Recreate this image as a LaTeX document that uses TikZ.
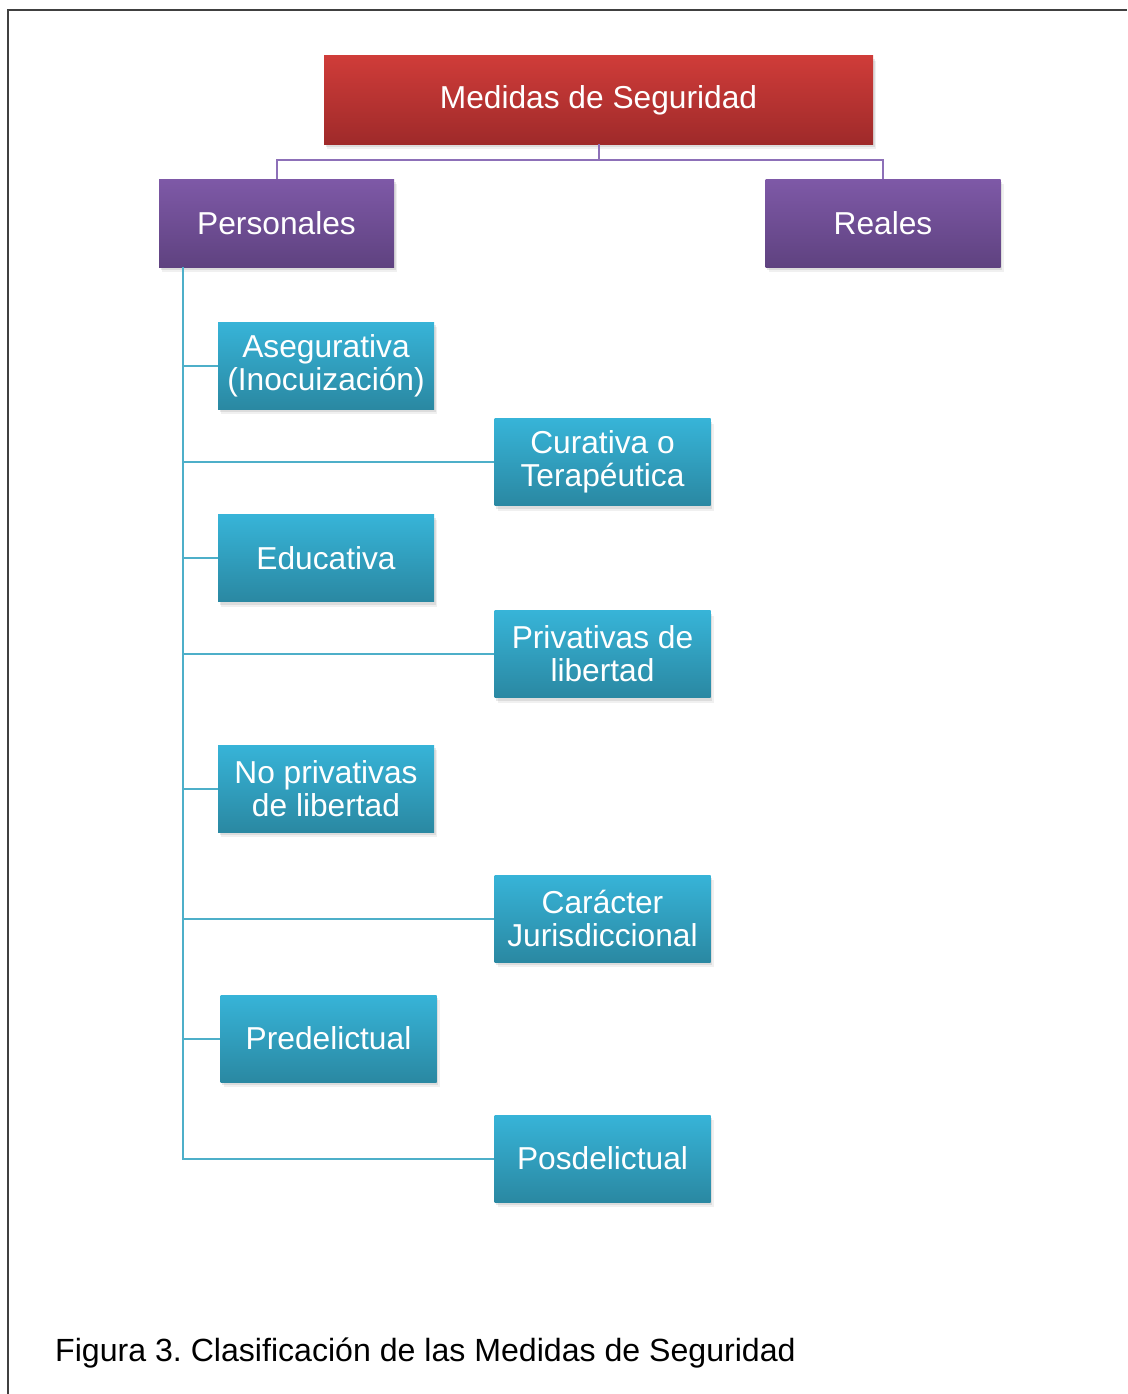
\documentclass[tikz,border=0pt]{standalone}
\usepackage{fontspec}
\setmainfont{Liberation Sans}
\usepackage{tikz}
\usetikzlibrary{shadows,calc}
\usepackage{xcolor}
\definecolor{redtop}{HTML}{CF3C39}
\definecolor{redbot}{HTML}{9F2A2A}
\definecolor{purtop}{HTML}{7E59A7}
\definecolor{purbot}{HTML}{5F4280}
\definecolor{blutop}{HTML}{37B4D8}
\definecolor{blubot}{HTML}{2A88A2}
\definecolor{purline}{HTML}{8D70B8}
\definecolor{bluline}{HTML}{4DAFC9}
\frenchspacing

\begin{document}
\begin{tikzpicture}[x=1pt,y=-1pt,
    box/.style={rectangle,inner sep=0pt,text=white,align=center,
      font=\fontsize{31.7}{33}\selectfont,
      drop shadow={shadow xshift=3pt,shadow yshift=-5pt,opacity=.12},
      drop shadow={shadow xshift=1.5pt,shadow yshift=-3pt,opacity=.18}},
    redbox/.style={box,top color=redtop,bottom color=redbot,minimum width=549pt,minimum height=88pt},
    purbox/.style={box,top color=purtop,bottom color=purbot,minimum width=235pt,minimum height=88pt},
    blubox/.style={box,top color=blutop,bottom color=blubot,minimum width=216pt,minimum height=87pt},
    purconn/.style={draw=purline,line width=2pt},
    bluconn/.style={draw=bluline,line width=2pt}]
        % background
        \useasboundingbox (0,0) rectangle (1127,1394);
        \draw[black!75,line width=1.5pt] (8,1394) -- (8,10) -- (1127,10);
        % top levels
        \node[redbox] (medidas) at (598.5,100) {Medidas de Seguridad};
        \node[purbox] (pers) at (276.5,223) {Personales};
        \node[purbox] (real) at (883,223) {Reales};
        % kinds of Personales
        \foreach \n/\x/\y/\t in {aseg/326/365.5/{Asegurativa\\(Inocuización)},
                                 cura/602.5/462/{Curativa o\\Terapéutica},
                                 educ/326/558/Educativa,
                                 priv/602.5/654/{Privativas de\\libertad},
                                 nopr/326/788.5/{No privativas\\de libertad},
                                 cara/602.5/918.5/{Carácter\\Jurisdiccional},
                                 pred/328.5/1038.5/Predelictual,
                                 posd/602.5/1158.5/Posdelictual}
          \node[blubox] (\n) at (\x,\y) {\t};
        % purple connectors
        \coordinate (split) at ($(medidas.south)+(0,16)$);
        \draw[purconn] (medidas.south) -- (split) -| (pers.north);
        \draw[purconn] (split) -| (real.north);
        % blue connectors
        \draw[bluconn] (pers.south west) ++(24,0) coordinate (trunk) |- (posd.west);
        \foreach \n in {aseg,cura,educ,priv,nopr,cara,pred}
          \draw[bluconn] (trunk |- \n.west) -- (\n.west);
        % caption
        \node[anchor=base west,inner sep=0pt,font=\fontsize{32.1}{34}\selectfont] (cap) at (55,1361)
          {Figura 3. Clasificación de las Medidas de Seguridad};
\end{tikzpicture}
\end{document}
